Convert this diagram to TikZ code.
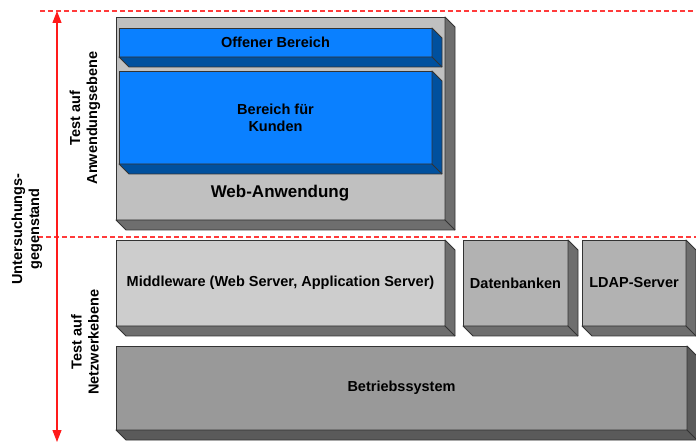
\documentclass[tikz,border=0pt]{standalone}
\usepackage{fontspec}
\setmainfont{Liberation Sans}
\usepackage{tikz}
\usetikzlibrary{arrows.meta, positioning, calc}

\begin{document}
\begin{tikzpicture}
            [
                x=1pt, y=-1pt,
                every node/.style={font=\bfseries\fontsize{14.5}{17}\selectfont, align=center},
                box/.style={draw=edgeGrey, line width=0.9pt, inner sep=0pt, outer sep=0pt, anchor=north west},
                boxsize/.style 2 args={minimum width=#1, minimum height=#2},
                depth/.style={draw=edgeGrey, line width=0.9pt, line join=round},
                border/.style={draw=lineRed, line width=1.1pt, dash pattern=on 5pt off 3pt},
                axis/.style={draw=arrowRed, line width=1.1pt, {Triangle[length=12pt,width=9pt]}-{Triangle[length=12pt,width=9pt]}},
                side label/.style={rotate=90}
            ]
            \definecolor{webFront}{HTML}{C0C0C0}
            \definecolor{mwFront}{HTML}{CDCDCD}
            \definecolor{dbFront}{HTML}{B2B2B2}
            \definecolor{bsFront}{HTML}{999999}
            \definecolor{blueFront}{HTML}{0A80FF}
            \definecolor{sideBlue}{HTML}{00509E}
            \definecolor{sideGrey}{HTML}{6E6E6E}
            \definecolor{sideDark}{HTML}{5A5A5A}
            \definecolor{edgeGrey}{HTML}{333333}
            \definecolor{lineRed}{HTML}{FF3B3B}
            \definecolor{arrowRed}{HTML}{FF1A1A}
            \useasboundingbox (0,0) rectangle (696,443);

            % level borders
            \coordinate (topL) at (40,11);
            \coordinate (topR) at (696,11);
            \coordinate (midL) at (38,237);
            \coordinate (midR) at (696,237);
            \draw[border] (topL) -- (topR);
            \draw[border] (midL) -- (midR);

            % scope axis
            \coordinate (axTop) at (57,11);
            \coordinate (axBot) at (57,442);
            \draw[axis] (axTop) -- (axBot);

            % application level
            \node[box, fill=webFront, boxsize={329pt}{203pt}] (web) at (116,17) {};
            \node[box, fill=blueFront, boxsize={313pt}{29pt}] (offen) at (119,28) {Offener Bereich};
            \node[box, fill=blueFront, boxsize={313pt}{93pt}] (kunden) at (119,71) {Bereich f\"ur\\Kunden};
            \node[font=\bfseries\fontsize{17}{20}\selectfont] (webtitle) at (280,193) {Web-Anwendung};

            % network level
            \node[box, fill=mwFront, boxsize={329pt}{86pt}] (mw) at (116,240) {Middleware (Web Server, Application Server)};
            \node[box, fill=dbFront, boxsize={105pt}{86pt}] (db) at (463,240) {Datenbanken};
            \node[box, fill=dbFront, boxsize={104pt}{86pt}] (ldap) at (582,240) {LDAP-Server};
            \node[box, fill=bsFront, boxsize={571pt}{84pt}] (bs) at (116,346) {Betriebssystem};

            % 3d sides
            \foreach \b/\s in {web/sideGrey, offen/sideBlue, kunden/sideBlue, mw/sideGrey, db/sideGrey, ldap/sideGrey, bs/sideDark}
            {
                \draw[depth, fill=\s] (\b.north east) -- ++(10,10) |- ([shift={(10,10)}]\b.south west) -- (\b.south west) -- (\b.south east) -- cycle;
                \draw[depth] (\b.south east) -- ++(10,10);
            }

            % side labels
            \node[side label] (testApp) at (85,118) {Test auf\\Anwendungsebene};
            \node[side label] (subject) at (27,229) {Untersuchungs-\\gegenstand};
            \node[side label] (testNet) at (85,342) {Test auf\\Netzwerkebene};
        \end{tikzpicture}
\end{document}
